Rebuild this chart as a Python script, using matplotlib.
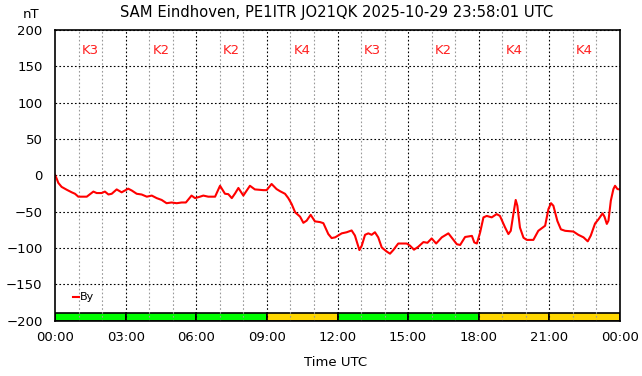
import matplotlib
matplotlib.use("Agg")
import matplotlib.pyplot as plt
from matplotlib.patches import Rectangle

plt.rcParams['font.family'] = ['DejaVu Sans']

title = "SAM Eindhoven, PE1ITR JO21QK 2025-10-29 23:58:01 UTC"

# time in hours UTC, By in nT
hours = [0.0, 0.07, 0.14, 0.28, 0.5, 0.71, 0.85, 0.99, 1.2, 1.35, 1.63, 1.77, 1.98, 2.12,
         2.27, 2.41, 2.62, 2.83, 3.11, 3.26, 3.47, 3.68, 3.9, 4.11, 4.32, 4.53, 4.74,
         4.95, 5.17, 5.38, 5.56, 5.8, 5.95, 6.16, 6.3, 6.51, 6.8, 7.01, 7.22, 7.36, 7.51,
         7.65, 7.79, 8.0, 8.28, 8.49, 8.85, 8.99, 9.2, 9.41, 9.56, 9.77, 9.91, 10.05,
         10.2, 10.41, 10.55, 10.69, 10.86, 11.04, 11.26, 11.4, 11.61, 11.75, 11.9, 12.18,
         12.39, 12.6, 12.74, 12.93, 13.03, 13.17, 13.31, 13.45, 13.59, 13.73, 13.88,
         14.09, 14.23, 14.37, 14.58, 14.94, 15.08, 15.25, 15.43, 15.65, 15.82, 16.0,
         16.19, 16.43, 16.71, 16.9, 17.07, 17.21, 17.42, 17.71, 17.81, 17.92, 18.06,
         18.2, 18.34, 18.55, 18.76, 18.9, 19.12, 19.26, 19.36, 19.47, 19.57, 19.64,
         19.75, 19.9, 20.04, 20.32, 20.53, 20.72, 20.82, 20.96, 21.07, 21.17, 21.34,
         21.49, 21.67, 22.02, 22.23, 22.45, 22.63, 22.76, 22.94, 23.09, 23.26, 23.34,
         23.44, 23.51, 23.61, 23.72, 23.79, 23.89, 23.98]
by_nt = [0.5, -4.5, -10.5, -16, -20, -23.5, -25.5, -29.5, -29.5, -29.5, -22.5, -24.5, -24.5, -22.5,
         -26.5, -25.5, -19.5, -23.5, -18.5, -21, -25.5, -26.5, -29.5, -28, -31.5, -34, -38.5,
         -37.5, -38.5, -37.5, -37.5, -28, -31.5, -29.5, -28, -29.5, -29.5, -14.5, -25.5, -26, -31.5,
         -25, -17.5, -28, -14.5, -19.5, -20.5, -20.5, -12, -19, -22, -25.5, -31.5, -39.5,
         -51, -57, -65.5, -62.5, -54.5, -63.5, -64.5, -66, -81, -86.5, -85.5, -80,
         -78.5, -76, -83, -103, -97, -82, -80, -82, -78.5, -85.5, -99.5,
         -105, -108, -103, -94, -94, -97, -102.5, -98.5, -92, -93, -87,
         -94, -85.5, -80, -88, -95, -96, -85, -83.5, -92.5, -94, -78.5,
         -58, -56, -58, -53.5, -56, -72, -81, -76.5, -53.5, -34, -42,
         -72, -86, -89, -89, -76.5, -72, -69.5, -46.5, -38.5, -42, -63,
         -74.5, -76.5, -77.5, -82, -85.5, -91, -83, -66.5, -60.5, -52.5, -57,
         -67, -62.5, -35, -19, -14.5, -19, -19.5]

k_starts = [0, 3, 6, 9, 12, 15, 18, 21]
k_values = [3, 2, 2, 4, 3, 2, 4, 4]
x_ticks = [0, 3, 6, 9, 12, 15, 18, 21, 24]
x_labels = ["00:00", "03:00", "06:00", "09:00", "12:00", "15:00", "18:00", "21:00", "00:00"]

fig = plt.figure(figsize=(6.42, 3.76), dpi=100)
ax = fig.add_axes([55/642, 1-320.5/376, 565/642, 290.5/376])
ax.set_xlim(0, 24)
ax.set_ylim(-200, 200)

# K bars
for s, k in zip(k_starts, k_values):
    col = '#00ff00' if k < 4 else '#ffd700'
    ax.add_patch(Rectangle((s, -200), 3, 10, facecolor=col, edgecolor='black', lw=1.2, zorder=1))
    ax.text(s + 1.5, 172, f"K{k}", color='#ff2020', ha='center', va='center', fontsize=9.5, zorder=4)

# grid
dots = (0, (1.5, 2))
for h in range(1, 24):
    if h % 3:
        ax.axvline(h, color='#999999', lw=0.8, ls=dots, zorder=2)
for h in x_ticks[1:-1]:
    ax.axvline(h, color='black', lw=0.8, ls=dots, zorder=2)
for v in range(-200, 201, 50):
    ax.axhline(v, color='black', lw=0.8, ls=dots, zorder=2)

ax.plot(hours, by_nt, color='red', lw=1.5, zorder=3)

# legend
ax.plot([0.77, 1.03], [-167, -167], color='red', lw=1.5, zorder=3)
ax.text(1.07, -167, "By", ha='left', va='center', fontsize=8, zorder=4)

ax.set_xticks(x_ticks)
ax.set_xticklabels(x_labels)
ax.set_yticks(range(-200, 201, 50))
ax.tick_params(length=0, labelsize=9.5, pad=9)
ax.tick_params(axis='x', pad=7.5)
for sp in ax.spines.values():
    sp.set_linewidth(1.2)
    sp.set_zorder(5)

fig.text(337/642, 1-12/376, title, ha='center', va='center', fontsize=10.6)
fig.text(31/642, 1-15/376, "nT", ha='center', va='center', fontsize=9.5)
fig.text(336/642, 1-362/376, "Time UTC", ha='center', va='center', fontsize=9.5)

fig.savefig("out.png", dpi=100)
